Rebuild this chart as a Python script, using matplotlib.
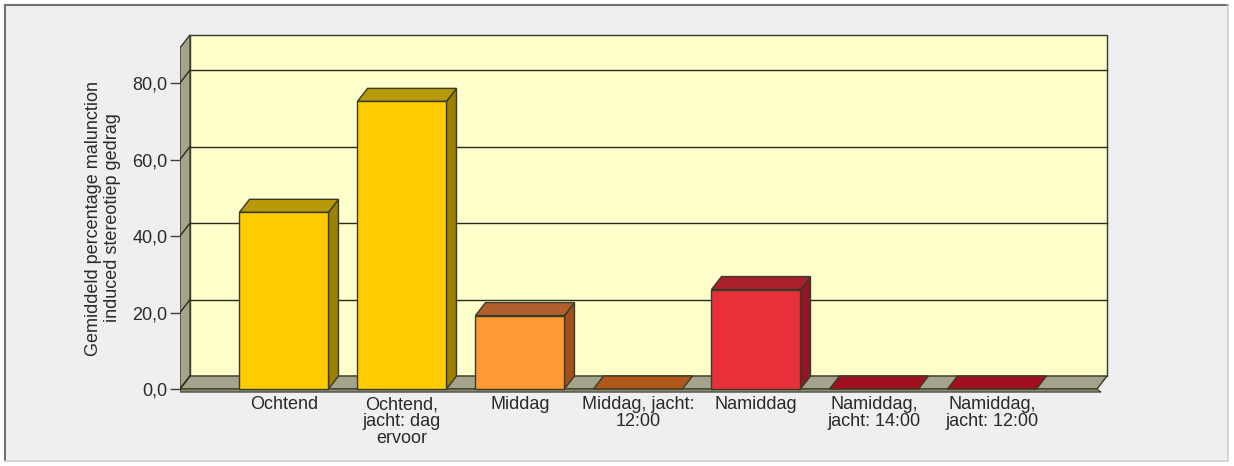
import matplotlib
matplotlib.use("Agg")
import matplotlib.pyplot as plt
from matplotlib.patches import Polygon, Rectangle
from matplotlib.lines import Line2D

categories = ["Ochtend", "Ochtend,\njacht: dag\nervoor", "Middag", "Middag, jacht:\n12:00",
              "Namiddag", "Namiddag,\njacht: 14:00", "Namiddag,\njacht: 12:00"]
values = [46.2, 75.2, 19.2, 0.0, 26.0, 0.0, 0.0]
front_colors = ["#FFCC00", "#FFCC00", "#FF9933", "#C8641E", "#E8303A", "#B01424", "#B01424"]
top_colors = ["#B89A08", "#B89A08", "#B0602C", "#B0581A", "#A8202C", "#A0101E", "#A0101E"]
side_colors = ["#9C8000", "#9C8000", "#A0501C", "#904812", "#901826", "#8A0E1A", "#8A0E1A"]
yticks = [0, 20, 40, 60, 80]
ylabel = "Gemiddeld percentage malunction\ninduced stereotiep gedrag"

plt.rcParams['font.family'] = ['Liberation Sans', 'DejaVu Sans']

W, H = 1234, 466
fig = plt.figure(figsize=(W / 100, H / 100), dpi=100)
fig.patch.set_facecolor("white")

# outer frame
fig.add_artist(Rectangle((5 / W, 1 - 461 / H), 1223 / W, 456 / H, transform=fig.transFigure,
                         facecolor="#EFEFEF", edgecolor="none", zorder=0))
fig.add_artist(Line2D([5 / W, 1228 / W], [1 - 5 / H, 1 - 5 / H], transform=fig.transFigure, color="#707070", lw=1.5))
fig.add_artist(Line2D([5 / W, 5 / W], [1 - 5 / H, 1 - 461 / H], transform=fig.transFigure, color="#707070", lw=1.5))
fig.add_artist(Line2D([1228 / W, 1228 / W], [1 - 5 / H, 1 - 461 / H], transform=fig.transFigure, color="#D0D0D0", lw=1.2))
fig.add_artist(Line2D([5 / W, 1228 / W], [1 - 461 / H, 1 - 461 / H], transform=fig.transFigure, color="#D0D0D0", lw=1.2))

x0, x1 = -0.881, 6.89
ylo, yhi = -1.2, 93.0
left_px, right_px = 180, 180 + (7.0 - x0) * 118
ax = fig.add_axes([left_px / W, (H - 393.6) / H, (right_px - left_px) / W, 360.3 / H])
ax.set_xlim(x0, 7.0)
ax.set_ylim(ylo, yhi)
ax.patch.set_visible(False)
for s in ax.spines.values():
    s.set_visible(False)

dx, dy = 0.085, 3.4
wall_top = 89.2
edge = "#3A3A28"
wall_col = "#A4A48C"

# back wall
ax.add_patch(Rectangle((x0 + dx, dy), x1 - x0, wall_top, facecolor="#FFFFCC", edgecolor=edge, lw=1.0, zorder=1))
# left wall
ax.add_patch(Polygon([(x0, 0), (x0, wall_top), (x0 + dx, wall_top + dy), (x0 + dx, dy)],
                     closed=True, facecolor=wall_col, edgecolor=edge, lw=1.0, zorder=1))
# floor
ax.add_patch(Polygon([(x0, 0), (x1, 0), (x1 + dx, dy), (x0 + dx, dy)],
                     closed=True, facecolor=wall_col, edgecolor=edge, lw=1.0, zorder=1))
ax.add_patch(Polygon([(x0, 0), (x1, 0), (x1 + dx * 0.4, -0.8), (x0, -0.8)],
                     closed=True, facecolor="#8C8C74", edgecolor=edge, lw=0.8, zorder=1))

# gridlines on back wall and diagonals on left wall
for t in yticks:
    if t > 0:
        ax.plot([x0 + dx, x1 + dx], [t + dy, t + dy], color="#2A2A20", lw=1.0, zorder=2)
    ax.plot([x0, x0 + dx], [t, t + dy], color="#2A2A20", lw=1.0, zorder=2)

hw = 0.377
for i, v in enumerate(values):
    xl, xr = i - hw, i + hw
    z = 3 + i * 0.01
    if v > 0:
        ax.add_patch(Rectangle((xl, 0), 2 * hw, v, facecolor=front_colors[i], edgecolor=edge, lw=1.0, zorder=z + 0.002))
        ax.add_patch(Polygon([(xr, 0), (xr + dx, dy), (xr + dx, v + dy), (xr, v)], closed=True,
                             facecolor=side_colors[i], edgecolor=edge, lw=1.0, zorder=z + 0.001))
    ax.add_patch(Polygon([(xl, v), (xr, v), (xr + dx, v + dy), (xl + dx, v + dy)], closed=True,
                         facecolor=top_colors[i], edgecolor=edge, lw=1.0, zorder=z + 0.001))

ax.set_yticks(yticks)
ax.set_yticklabels([f"{t:.1f}".replace(".", ",") for t in yticks], fontsize=13, color="#2A2A2A")
ax.tick_params(axis="y", length=7, width=1.0, color="#404040", pad=2)
ax.set_xticks(range(len(categories)))
ax.set_xticklabels(categories, fontsize=13, color="#2A2A2A", linespacing=1.0)
ax.tick_params(axis="x", length=0, pad=2)

fig.text(103 / W, (H - 218) / H, ylabel, rotation=90, ha="center", va="center",
         multialignment="center", fontsize=13, color="#2A2A2A", linespacing=1.15)

fig.savefig("out.png", dpi=100, facecolor=fig.get_facecolor())
